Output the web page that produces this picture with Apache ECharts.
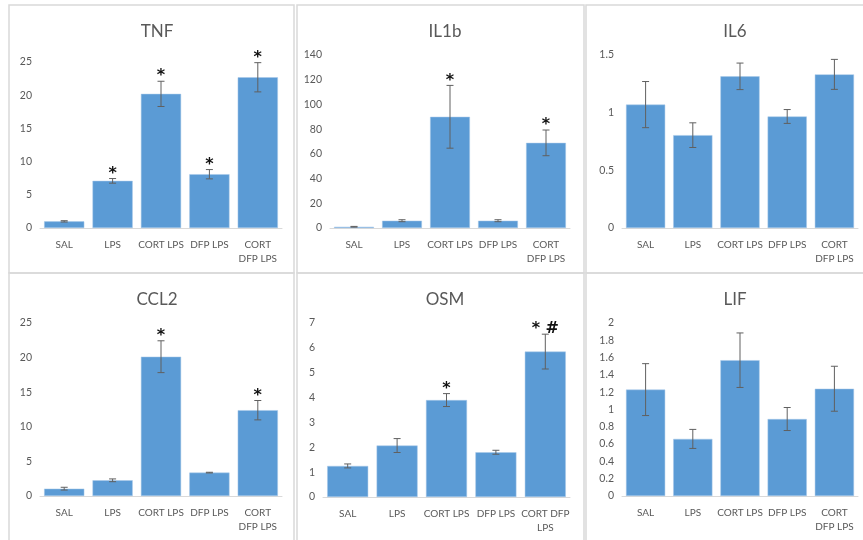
<!DOCTYPE html>
<html>
<head>
<meta charset="utf-8">
<script src="https://cdn.jsdelivr.net/npm/echarts@6/dist/echarts.min.js"></script>
<style>
html,body{margin:0;padding:0;background:#fff;}
#chart{width:863px;height:540px;}
</style>
</head>
<body>
<div id="chart"></div>
<script>
// ---- data ----
const categories = ['SAL', 'LPS', 'CORT LPS', 'DFP LPS', 'CORT DFP LPS'];
const tickLabels = ['SAL', 'LPS', 'CORT LPS', 'DFP LPS', 'CORT\nDFP LPS'];
const tickLabelsOsm = ['SAL', 'LPS', 'CORT LPS', 'DFP LPS', 'CORT DFP\nLPS'];

const titles = ['TNF', 'IL1b', 'IL6', 'CCL2', 'OSM', 'LIF'];

const tnfMean = [1.0, 7.1, 20.2, 8.1, 22.7];
const tnfErr  = [0.1, 0.35, 1.9, 0.7, 2.2];
const tnfSig  = ['', '*', '*', '*', '*'];

const il1bMean = [1.0, 5.9, 90.0, 5.9, 68.9];
const il1bErr  = [0.3, 0.8, 25.4, 0.8, 10.4];
const il1bSig  = ['', '', '*', '', '*'];

const il6Mean = [1.07, 0.805, 1.315, 0.967, 1.332];
const il6Err  = [0.2, 0.107, 0.115, 0.06, 0.13];
const il6Sig  = ['', '', '', '', ''];

const ccl2Mean = [1.06, 2.27, 20.13, 3.38, 12.4];
const ccl2Err  = [0.2, 0.2, 2.3, 0.05, 1.4];
const ccl2Sig  = ['', '', '*', '', '*'];

const osmMean = [1.25, 2.07, 3.9, 1.80, 5.85];
const osmErr  = [0.08, 0.28, 0.26, 0.08, 0.7];
const osmSig  = ['', '', '*', '', '* #'];

const lifMean = [1.23, 0.66, 1.57, 0.89, 1.24];
const lifErr  = [0.3, 0.11, 0.315, 0.133, 0.26];
const lifSig  = ['', '', '', '', ''];

const yMax      = [25, 140, 1.5, 25, 7, 2];
const yInterval = [5, 20, 0.5, 5, 1, 0.2];

// ---- layout ----
const panels = [
  {means: tnfMean,  errs: tnfErr,  sig: tnfSig,  labels: tickLabels},
  {means: il1bMean, errs: il1bErr, sig: il1bSig, labels: tickLabels},
  {means: il6Mean,  errs: il6Err,  sig: il6Sig,  labels: tickLabels},
  {means: ccl2Mean, errs: ccl2Err, sig: ccl2Sig, labels: tickLabels},
  {means: osmMean,  errs: osmErr,  sig: osmSig,  labels: tickLabelsOsm},
  {means: lifMean,  errs: lifErr,  sig: lifSig,  labels: tickLabels}
];
const grids = [
  {left: 40,  top: 62,  width: 242, height: 166},
  {left: 330, top: 55,  width: 240, height: 173},
  {left: 622, top: 55,  width: 236, height: 173},
  {left: 40,  top: 323, width: 242, height: 173},
  {left: 323, top: 323, width: 247, height: 174},
  {left: 622, top: 323, width: 236, height: 173}
];
const boxes = [
  [9, 5, 285, 268], [297, 5, 287, 268], [586, 5, 290, 268],
  [9, 273, 285, 280], [297, 273, 287, 280], [586, 273, 290, 280]
];
const titleCenters = [152, 440, 730, 152, 440, 730];
const titleTops = [18, 18, 18, 286, 286, 286];

const FONT = 'Lato, "Open Sans", sans-serif';
const GRAY = '#595959';

const option = {
  animation: false,
  backgroundColor: '#fff',
  title: titles.map((t, i) => ({
    text: t, left: titleCenters[i], top: titleTops[i], textAlign: 'center',
    textStyle: {fontFamily: FONT, fontSize: 17, fontWeight: 'normal', color: GRAY}
  })),
  graphic: boxes.map(b => ({
    type: 'rect', shape: {x: b[0], y: b[1], width: b[2], height: b[3]},
    style: {fill: 'none', stroke: '#d9d9d9', lineWidth: 1.5}, silent: true, z: -1
  })),
  grid: grids,
  xAxis: panels.map((p, i) => ({
    type: 'category', gridIndex: i, data: categories,
    axisLine: {lineStyle: {color: '#d9d9d9', width: 1}},
    axisTick: {show: false},
    axisLabel: {
      interval: 0, fontFamily: FONT, fontSize: 10, color: GRAY, margin: 10, lineHeight: 14,
      formatter: (v, idx) => p.labels[idx]
    }
  })),
  yAxis: panels.map((p, i) => ({
    type: 'value', gridIndex: i, min: 0, max: yMax[i], interval: yInterval[i],
    splitLine: {show: false}, axisLine: {show: false}, axisTick: {show: false},
    axisLabel: {fontFamily: FONT, fontSize: 10.5, color: GRAY, margin: 8}
  })),
  series: []
};

panels.forEach((p, i) => {
  option.series.push({
    type: 'bar', xAxisIndex: i, yAxisIndex: i, data: p.means,
    barCategoryGap: '17%',
    itemStyle: {color: '#5b9bd5', borderColor: '#a9c8e8', borderWidth: 0.5}
  });
  option.series.push({
    type: 'custom', xAxisIndex: i, yAxisIndex: i, z: 10,
    data: p.means.map((m, k) => [k, m, p.errs[k]]),
    renderItem: function (params, api) {
      const k = api.value(0), m = api.value(1), e = api.value(2);
      const top = api.coord([k, m + e]);
      const bot = api.coord([k, m - e]);
      const x = top[0];
      const cw = 3.5;
      const st = {stroke: '#606060', lineWidth: 1};
      const children = [
        {type: 'line', shape: {x1: x, y1: top[1], x2: x, y2: bot[1]}, style: st},
        {type: 'line', shape: {x1: x - cw, y1: top[1], x2: x + cw, y2: top[1]}, style: st},
        {type: 'line', shape: {x1: x - cw, y1: bot[1], x2: x + cw, y2: bot[1]}, style: st}
      ];
      const s = p.sig[params.dataIndex];
      if (s) {
        children.push({
          type: 'text',
          style: {text: s, x: x, y: top[1] + 3, align: 'center', verticalAlign: 'bottom',
                  font: 'bold 16px "DejaVu Sans", sans-serif', fill: '#111'}
        });
      }
      return {type: 'group', children: children};
    }
  });
});

const chart = echarts.init(document.getElementById('chart'), null, {renderer: 'canvas'});
chart.setOption(option);
</script>
</body>
</html>
